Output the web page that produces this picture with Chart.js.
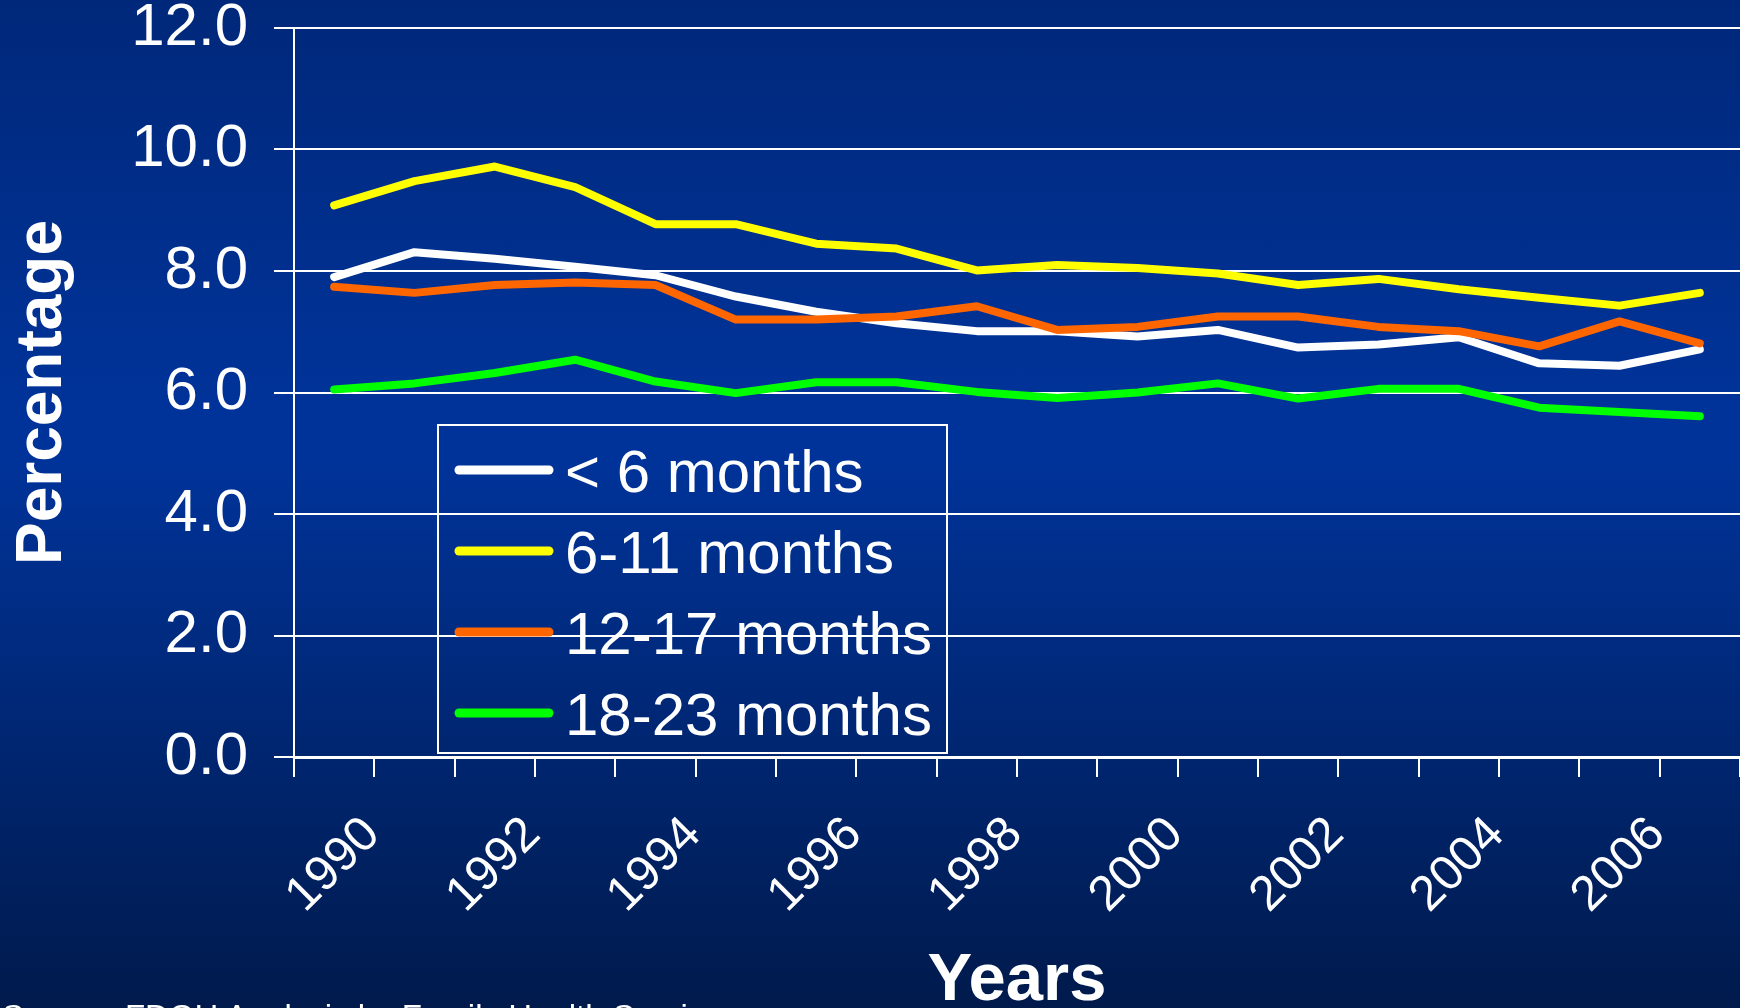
<!DOCTYPE html>
<html>
<head>
<meta charset="utf-8">
<title>Percentage by age group, 1990-2007</title>
<script src="https://cdn.jsdelivr.net/npm/chart.js@4.4.0/dist/chart.umd.min.js"></script>
<style>
    html, body { margin: 0; padding: 0; }
    body {
        width: 1740px;
        height: 1008px;
        overflow: hidden;
        position: relative;
        background: linear-gradient(to bottom, #00287a 0%, #003399 40%, #003399 46%, #001a4c 100%);
    }
    #wrap { position: absolute; left: 0; top: 0; width: 1740px; height: 1008px; }
    #source {
        position: absolute;
        left: 2px;
        top: 1000px;
        font: 33px "Liberation Sans", Arial, sans-serif;
        line-height: 1;
        color: #ffffff;
        white-space: nowrap;
    }
</style>
</head>
<body>
<div id="wrap"><canvas id="age-chart" width="1740" height="1008"></canvas></div>
<div id="source">Source: FDOH Analysis by Family Health Services</div>

<script>
// --- Data ---
const years = ['1990', '1991', '1992', '1993', '1994', '1995', '1996', '1997', '1998',
               '1999', '2000', '2001', '2002', '2003', '2004', '2005', '2006', '2007'];
const under6Months = [7.90, 8.31, 8.20, 8.07, 7.93, 7.58, 7.33, 7.14, 7.01,
                      7.01, 6.92, 7.03, 6.74, 6.79, 6.91, 6.48, 6.44, 6.71];
const months6to11 = [9.08, 9.48, 9.72, 9.38, 8.77, 8.77, 8.45, 8.37, 8.01,
                     8.10, 8.05, 7.96, 7.77, 7.87, 7.70, 7.56, 7.43, 7.64];
const months12to17 = [7.74, 7.64, 7.77, 7.81, 7.77, 7.20, 7.20, 7.25, 7.42,
                      7.03, 7.08, 7.25, 7.25, 7.08, 7.01, 6.76, 7.17, 6.81];
const months18to23 = [6.05, 6.15, 6.32, 6.54, 6.18, 5.99, 6.17, 6.17, 6.01,
                      5.91, 6.00, 6.15, 5.90, 6.06, 6.06, 5.75, 5.68, 5.61];
const seriesLabels = ['< 6 months', '6-11 months', '12-17 months', '18-23 months'];
const yTicks = [0, 2, 4, 6, 8, 10, 12];

const FONT = '"Liberation Sans", Arial, Helvetica, sans-serif';
const seriesColors = ['#FFFFFF', '#FFFF00', '#FF6600', '#00FF00'];

// Boxed legend drawn inside the plot, like the original slide
const boxLegend = {
    id: 'boxLegend',
    afterDatasetsDraw(chart) {
        const ctx = chart.ctx;
        const box = { x: 438, y: 425, w: 509, h: 328 };
        ctx.save();
        ctx.strokeStyle = '#ffffff';
        ctx.lineWidth = 2;
        ctx.strokeRect(box.x, box.y, box.w, box.h);

        ctx.font = `60px ${FONT}`;
        ctx.textBaseline = 'middle';
        ctx.textAlign = 'left';
        chart.data.datasets.forEach((ds, i) => {
            const y = box.y + 45 + i * 81;
            ctx.beginPath();
            ctx.moveTo(459, y);
            ctx.lineTo(549, y);
            ctx.strokeStyle = ds.borderColor;
            ctx.lineWidth = 9;
            ctx.lineCap = 'round';
            ctx.stroke();
            ctx.fillStyle = '#ffffff';
            ctx.fillText(ds.label, 565, y + 5);
        });
        ctx.restore();
    }
};

const seriesData = [under6Months, months6to11, months12to17, months18to23];

const ctx = document.getElementById('age-chart').getContext('2d');
new Chart(ctx, {
    type: 'line',
    data: {
        labels: years,
        datasets: seriesData.map((values, i) => ({
            label: seriesLabels[i],
            data: values,
            borderColor: seriesColors[i],
            backgroundColor: seriesColors[i],
            borderWidth: 8,
            borderCapStyle: 'round',
            borderJoinStyle: 'round',
            pointRadius: 0,
            tension: 0,
            fill: false,
            order: seriesData.length - i   // later series on top, like Excel
        }))
    },
    options: {
        responsive: false,
        animation: false,
        layout: { padding: 0 },
        plugins: {
            legend: { display: false },
            tooltip: { enabled: false }
        },
        scales: {
            x: {
                offset: true,
                grid: {
                    offset: true,
                    drawOnChartArea: false,
                    tickLength: 20,
                    color: '#ffffff',
                    lineWidth: 2
                },
                border: { color: '#ffffff', width: 3 },
                ticks: {
                    autoSkip: false,
                    minRotation: 45,
                    maxRotation: 45,
                    padding: 29,
                    labelOffset: 38,
                    color: '#ffffff',
                    font: { family: FONT, size: 49 },
                    callback: (value, index) => (index % 2 === 0 ? years[index] : '')
                },
                title: {
                    display: true,
                    text: 'Years',
                    color: '#ffffff',
                    font: { family: FONT, size: 67, weight: 'bold', lineHeight: 0.8 },
                    padding: 0
                },
                afterFit(scale) {
                    scale.height = 251;
                    scale.paddingLeft = 0;
                    scale.paddingRight = 0;
                }
            },
            y: {
                min: 0,
                max: 12,
                afterBuildTicks(scale) { scale.ticks = yTicks.map(v => ({ value: v })); },
                grid: { color: '#ffffff', lineWidth: 2, tickLength: 20 },
                border: { color: '#ffffff', width: 2 },
                ticks: {
                    padding: 26,
                    color: '#ffffff',
                    font: { family: FONT, size: 60, lineHeight: 1 },
                    callback: (value) => Number(value).toFixed(1)
                },
                title: {
                    display: true,
                    text: 'Percentage',
                    color: '#ffffff',
                    font: { family: FONT, size: 64, weight: 'bold', lineHeight: 1.2 },
                    padding: { top: 5, bottom: 0 }
                },
                afterFit(scale) {
                    scale.width = 294;
                    scale.paddingTop = 28;
                    scale.paddingBottom = 0;
                }
            }
        }
    },
    plugins: [boxLegend]
});
</script>
</body>
</html>
